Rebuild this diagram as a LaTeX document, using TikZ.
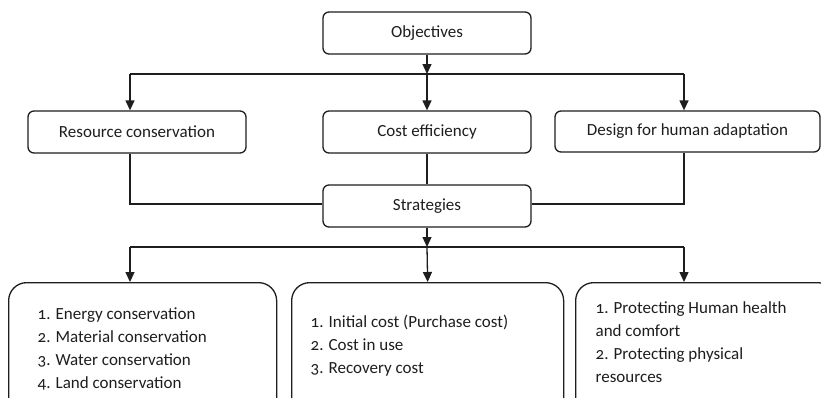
\documentclass[tikz,border=0pt]{standalone}
\usepackage{fontspec}
\setmainfont{Carlito}[Numbers=OldStyle]
\usetikzlibrary{arrows.meta}
\definecolor{ink}{HTML}{1E1E1E}
\begin{document}
\begin{tikzpicture}[x=1pt,y=-1pt,
  line width=1.3pt, draw=ink, text=ink,
  box/.style={draw=ink, rounded corners=6pt, inner sep=0pt, font=\fontsize{17}{20}\selectfont},
  bigbox/.style={draw=ink, rounded corners=18pt, inner sep=0pt},
  txt/.style={anchor=north west, align=left, inner sep=0pt, font=\fontsize{17}{23}\selectfont},
  arr/.style={-{Triangle[length=10pt,width=9pt]}}]
\useasboundingbox (0,0) rectangle (821,397);
\clip (0,0) rectangle (821,397);
\fill[white] (0,0) rectangle (821,397);
% top row
\node[box, minimum width=208pt, minimum height=42pt] (obj) at (427,33) {Objectives};
\node[box, minimum width=218pt, minimum height=42pt] (res) at (137,132) {Resource conservation};
\node[box, minimum width=208pt, minimum height=42pt] (cost) at (427,132) {Cost efficiency};
\node[box, minimum width=265pt, minimum height=41pt] (des) at (687.5,131.5) {Design for human adaptation};
\node[box, minimum width=208pt, minimum height=42pt] (str) at (427,206) {Strategies};
\coordinate (j1) at (427,74);
\coordinate (jL) at (130,74);
\coordinate (jR) at (684,74);
\draw[arr] (obj) -- (j1);
\draw (jL) -- (jR);
\draw[arr] (jL) -- (jL |- res.north);
\draw[arr] (j1) -- (cost.north);
\draw[arr] (jR) -- (jR |- des.north);
% to strategies
\coordinate (kL) at (130,204);
\coordinate (kR) at (684,204);
\draw (res.south -| kL) -- (kL) -- (kL -| str.west);
\draw (des.south -| kR) -- (kR) -- (kR -| str.east);
\draw (cost) -- (str);
% bottom row
\coordinate (j2) at (427,247);
\coordinate (mL) at (130,247);
\coordinate (mR) at (684,247);
\draw[arr] (str) -- (j2);
\draw (mL) -- (mR);
\node[bigbox, anchor=north west, minimum width=268pt, minimum height=145pt] (b1) at (8,282) {};
\node[bigbox, anchor=north west, minimum width=272pt, minimum height=145pt] (b2) at (291,282) {};
\node[bigbox, anchor=north west, minimum width=260pt, minimum height=145pt] (b3) at (575,282) {};
\draw[arr] (mL) -- (mL |- b1.north);
\draw[arr] (j2) -- (b2.north);
\draw[arr] (mR) -- (mR |- b3.north);
\node[txt] (t1) at (37,307) {1. Energy conservation\\2. Material conservation\\3. Water conservation\\4. Land conservation};
\node[txt] (t2) at (310,314) {1. Initial cost (Purchase cost)\\2. Cost in use\\3. Recovery cost};
\node[txt] (t3) at (595,301) {1. Protecting Human health\\and comfort\\2. Protecting physical\\resources};
\end{tikzpicture}
\end{document}
